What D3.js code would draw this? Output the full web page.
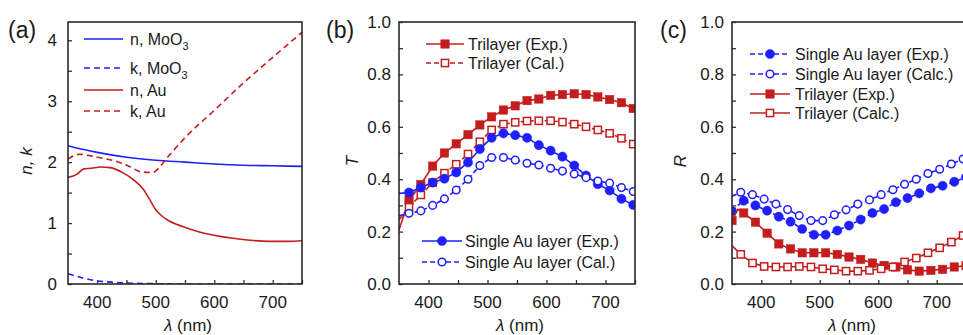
<!DOCTYPE html>
<html>
<head>
<meta charset="utf-8">
<script src="https://cdn.jsdelivr.net/npm/d3@7"></script>
<style>
  body { margin: 0; background: #fff; }
  svg { display: block; font-family: "Liberation Sans", Arial, sans-serif; }
</style>
</head>
<body>
<svg id="chart" width="963" height="335"></svg>
<script>
// ---- panel (a): optical constants ----
let nMoO3Wl = [350, 375, 400, 450, 500, 550, 600, 650, 700, 750]
let nMoO3 = [2.27, 2.21, 2.16, 2.08, 2.03, 2.00, 1.97, 1.95, 1.94, 1.93]
let kMoO3Wl = [350, 375, 400, 425, 450, 500, 550, 750]
let kMoO3 = [0.17, 0.10, 0.05, 0.03, 0.015, 0.005, 0, 0]
let nAuWl = [350, 365, 377, 390, 405, 422, 445, 462, 479, 490, 500, 510, 520, 547, 576, 632, 695, 725, 750]
let nAu = [1.75, 1.80, 1.89, 1.90, 1.92, 1.91, 1.82, 1.71, 1.55, 1.38, 1.22, 1.12, 1.05, 0.94, 0.85, 0.75, 0.70, 0.70, 0.71]
let kAuWl = [350, 370, 400, 430, 455, 475, 495, 505, 515, 550, 600, 650, 700, 750]
let kAu = [2.05, 2.13, 2.08, 2.02, 1.93, 1.84, 1.83, 1.90, 2.02, 2.40, 2.85, 3.30, 3.72, 4.13]

// ---- panel (b): transmittance ----
let tWl = [350, 367, 387, 407, 427, 447, 467, 487, 507, 527, 547, 567, 587, 607, 627, 647, 667, 687, 707, 727, 747]
let triExpT = [0.207, 0.32, 0.38, 0.45, 0.50, 0.535, 0.57, 0.607, 0.638, 0.664, 0.68, 0.70, 0.706, 0.72, 0.723, 0.726, 0.723, 0.714, 0.704, 0.692, 0.67]
let triCalT = [0.245, 0.293, 0.34, 0.387, 0.423, 0.457, 0.496, 0.543, 0.588, 0.61, 0.617, 0.622, 0.623, 0.623, 0.618, 0.61, 0.60, 0.588, 0.575, 0.556, 0.534]
let auExpT = [0.346, 0.349, 0.368, 0.387, 0.402, 0.426, 0.464, 0.515, 0.558, 0.575, 0.568, 0.558, 0.53, 0.509, 0.486, 0.452, 0.414, 0.381, 0.357, 0.325, 0.302]
let auCalT = [0.26, 0.27, 0.279, 0.30, 0.325, 0.359, 0.40, 0.452, 0.483, 0.483, 0.473, 0.461, 0.454, 0.442, 0.431, 0.42, 0.406, 0.393, 0.385, 0.368, 0.353]

// ---- panel (c): reflectance ----
let rExpWl = [350, 360, 370, 390, 410, 430, 450, 470, 490, 510, 530, 550, 570, 590, 610, 630, 650, 670, 690, 710, 730, 750]
let auExpR = [0.278, 0.30, 0.318, 0.30, 0.28, 0.257, 0.238, 0.21, 0.188, 0.188, 0.204, 0.223, 0.246, 0.271, 0.286, 0.312, 0.328, 0.346, 0.365, 0.375, 0.39, 0.407]
let triExpR = [0.242, 0.285, 0.271, 0.236, 0.194, 0.153, 0.134, 0.119, 0.119, 0.119, 0.113, 0.103, 0.094, 0.08, 0.071, 0.065, 0.054, 0.049, 0.052, 0.056, 0.065, 0.07]
let rCalWl = [350, 365, 385, 405, 425, 445, 465, 485, 505, 525, 545, 565, 585, 605, 625, 645, 665, 685, 705, 725, 745]
let auCalR = [0.335, 0.35, 0.341, 0.324, 0.305, 0.284, 0.261, 0.242, 0.242, 0.264, 0.283, 0.305, 0.321, 0.341, 0.36, 0.381, 0.40, 0.422, 0.438, 0.458, 0.477]
let triCalR = [0.147, 0.113, 0.08, 0.067, 0.065, 0.065, 0.067, 0.065, 0.058, 0.054, 0.049, 0.049, 0.052, 0.058, 0.065, 0.084, 0.099, 0.119, 0.138, 0.16, 0.185]

let blue = '#1f1fff'
let red = '#c41d1d'
let ink = '#1a1a1a'

let svg = d3.select('#chart')

function zip (wl, vals) {
  return wl.map((w, i) => ({ w: w, v: vals[i] }))
}

function panel (opt) {
  let g = svg.append('g')
  let x = d3.scaleLinear().domain([350, 750]).range([opt.left, opt.left + opt.width])
  let y = d3.scaleLinear().domain(opt.yDomain).range([opt.top + opt.height, opt.top])

  let clipId = 'clip-' + opt.name
  svg.append('clipPath').attr('id', clipId)
    .append('rect')
    .attr('x', opt.left).attr('y', opt.top)
    .attr('width', opt.width).attr('height', opt.height)

  // inward ticks
  let xAxis = d3.axisBottom(x).tickValues(d3.range(400, 751, 50)).tickSize(-4).tickFormat('')
  g.append('g').attr('transform', `translate(0,${opt.top + opt.height})`).call(xAxis)
  let yAxis = d3.axisLeft(y).tickValues(opt.yMinor).tickSize(-4).tickFormat('')
  g.append('g').attr('transform', `translate(${opt.left},0)`).call(yAxis)
  g.selectAll('.domain').remove()
  g.selectAll('.tick line').attr('stroke', '#333').attr('stroke-width', 1.3)

  // tick labels
  g.selectAll('.xlab').data([400, 500, 600, 700]).enter().append('text')
    .attr('x', (d) => x(d)).attr('y', opt.top + opt.height + 24)
    .attr('text-anchor', 'middle').attr('font-size', 17).attr('fill', ink)
    .text((d) => d)
  g.selectAll('.ylab').data(opt.yMajor).enter().append('text')
    .attr('x', opt.left - opt.labGap).attr('y', (d) => y(d) + 6)
    .attr('text-anchor', 'end').attr('font-size', 17).attr('fill', ink)
    .text(opt.yFormat)

  // axis titles
  let xt = g.append('text')
    .attr('x', opt.left + opt.width / 2 + 3).attr('y', 331)
    .attr('text-anchor', 'middle').attr('font-size', 17).attr('fill', ink)
  xt.append('tspan').attr('font-style', 'italic').text('λ')
  xt.append('tspan').text(' (nm)')

  g.append('text')
    .attr('transform', `translate(${opt.yTitleX},${opt.top + opt.height / 2 + 8}) rotate(-90)`)
    .attr('text-anchor', 'middle').attr('font-size', 17).attr('font-style', 'italic').attr('fill', ink)
    .text(opt.yTitle)

  g.append('text')
    .attr('x', opt.tagX).attr('y', 38)
    .attr('font-size', 23).attr('fill', ink)
    .text(opt.tag)

  let plot = g.append('g').attr('clip-path', `url(#${clipId})`)
  return { g: g, plot: plot, x: x, y: y }
}

function drawSeries (p, s) {
  let data = zip(s.wl, s.vals)
  let line = d3.line().x((d) => p.x(d.w)).y((d) => p.y(d.v))
  if (s.smooth) line.curve(d3.curveMonotoneX)
  p.plot.append('path')
    .datum(data)
    .attr('fill', 'none')
    .attr('stroke', s.color)
    .attr('stroke-width', 1.6)
    .attr('stroke-dasharray', s.dash || null)
    .attr('d', line)
  if (!s.marker) return
  let pts = data.filter((d) => s.markAt(d.w))
  drawMarkers(p.plot, pts.map((d) => [p.x(d.w), p.y(d.v)]), s)
}

function drawMarkers (sel, pts, s) {
  let fill = s.open ? '#fff' : s.color
  if (s.marker === 'circle') {
    sel.selectAll(null).data(pts).enter().append('circle')
      .attr('cx', (d) => d[0]).attr('cy', (d) => d[1])
      .attr('r', s.open ? 3.8 : 4.6)
      .attr('fill', fill).attr('stroke', s.color).attr('stroke-width', s.open ? 1.5 : 0.5)
  } else {
    let h = s.open ? 3.6 : 4.2
    sel.selectAll(null).data(pts).enter().append('rect')
      .attr('x', (d) => d[0] - h).attr('y', (d) => d[1] - h)
      .attr('width', 2 * h).attr('height', 2 * h)
      .attr('fill', fill).attr('stroke', s.color).attr('stroke-width', s.open ? 1.5 : 0.5)
  }
}

function frame (p, opt) {
  p.g.append('rect')
    .attr('x', opt.left).attr('y', opt.top)
    .attr('width', opt.width).attr('height', opt.height)
    .attr('fill', 'none').attr('stroke', '#2a2a2a').attr('stroke-width', 1.6)
}

function legend (g, items, o) {
  items.forEach((s, i) => {
    let yy = o.rows[i]
    g.append('line')
      .attr('x1', o.x1).attr('x2', o.x2).attr('y1', yy).attr('y2', yy)
      .attr('stroke', s.color).attr('stroke-width', 1.6)
      .attr('stroke-dasharray', s.dash || null)
    if (s.marker) drawMarkers(g, [[(o.x1 + o.x2) / 2, yy]], s)
    let t = g.append('text')
      .attr('x', o.tx).attr('y', yy + 6)
      .attr('font-size', 16).attr('fill', ink)
    t.append('tspan').text(s.label)
    if (s.sub) {
      t.append('tspan').attr('dy', 5).attr('font-size', 11).text(s.sub)
    }
  })
}

// ---------------- (a) ----------------
let optA = {
  name: 'a', left: 68, top: 22, width: 234, height: 262,
  yDomain: [0, 4.3], yMinor: d3.range(0, 4.3, 0.5), yMajor: [0, 1, 2, 3, 4],
  yFormat: (d) => d, labGap: 11, yTitle: 'n, k', yTitleX: 32, tag: '(a)', tagX: 8
}
let pA = panel(optA)
let seriesA = [
  { wl: nMoO3Wl, vals: nMoO3, color: blue, smooth: true, label: 'n, MoO', sub: '3' },
  { wl: kMoO3Wl, vals: kMoO3, color: blue, dash: '6,4', smooth: true, label: 'k, MoO', sub: '3' },
  { wl: nAuWl, vals: nAu, color: red, smooth: true, label: 'n, Au' },
  { wl: kAuWl, vals: kAu, color: red, dash: '6,4', smooth: true, label: 'k, Au' }
]
seriesA.forEach((s) => drawSeries(pA, s))
frame(pA, optA)
legend(pA.g, seriesA, { x1: 84, x2: 123, tx: 130, rows: [39, 68, 90, 111] })

// ---------------- (b) ----------------
let optB = {
  name: 'b', left: 399, top: 22, width: 236, height: 262,
  yDomain: [0, 1], yMinor: d3.range(0, 1.01, 0.1), yMajor: [0, 0.2, 0.4, 0.6, 0.8, 1.0],
  yFormat: d3.format('.1f'), labGap: 8, yTitle: 'T', yTitleX: 358, tag: '(b)', tagX: 326
}
let pB = panel(optB)
let markT = (w) => w > 350
let seriesB = [
  { wl: tWl, vals: triExpT, color: red, marker: 'square', markAt: markT, label: 'Trilayer (Exp.)' },
  { wl: tWl, vals: triCalT, color: red, marker: 'square', open: true, dash: '5,3', markAt: markT, label: 'Trilayer (Cal.)' },
  { wl: tWl, vals: auExpT, color: blue, marker: 'circle', markAt: markT, label: 'Single Au layer (Exp.)' },
  { wl: tWl, vals: auCalT, color: blue, marker: 'circle', open: true, dash: '5,3', markAt: markT, label: 'Single Au layer (Cal.)' }
]
seriesB.forEach((s) => drawSeries(pB, s))
frame(pB, optB)
legend(pB.g, seriesB.slice(0, 2), { x1: 426, x2: 464, tx: 468, rows: [44, 63] })
legend(pB.g, seriesB.slice(2), { x1: 422, x2: 462, tx: 465, rows: [241, 262] })

// ---------------- (c) ----------------
let optC = {
  name: 'c', left: 732, top: 22, width: 234, height: 262,
  yDomain: [0, 1], yMinor: d3.range(0, 1.01, 0.1), yMajor: [0, 0.2, 0.4, 0.6, 0.8, 1.0],
  yFormat: d3.format('.1f'), labGap: 8, yTitle: 'R', yTitleX: 686, tag: '(c)', tagX: 660
}
let pC = panel(optC)
let markExpR = (w) => w % 20 === 10
let markCalR = (w) => w > 350
let seriesC = [
  { wl: rExpWl, vals: auExpR, color: blue, marker: 'circle', dash: '5,3', markAt: markExpR, label: 'Single Au layer (Exp.)' },
  { wl: rCalWl, vals: auCalR, color: blue, marker: 'circle', open: true, dash: '5,3', markAt: markCalR, label: 'Single Au layer (Calc.)' },
  { wl: rExpWl, vals: triExpR, color: red, marker: 'square', markAt: markExpR, label: 'Trilayer (Exp.)' },
  { wl: rCalWl, vals: triCalR, color: red, marker: 'square', open: true, markAt: markCalR, label: 'Trilayer (Calc.)' }
]
seriesC.forEach((s) => drawSeries(pC, s))
frame(pC, optC)
legend(pC.g, seriesC, { x1: 750, x2: 790, tx: 795, rows: [54, 74, 94, 113] })
</script>
</body>
</html>
